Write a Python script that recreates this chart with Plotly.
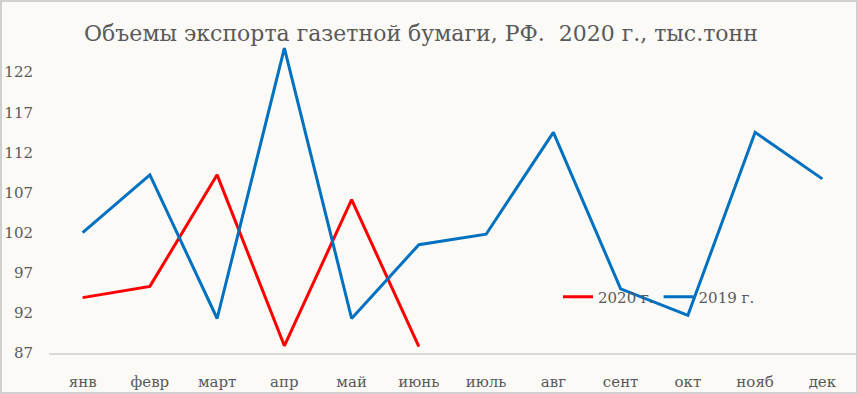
import plotly.graph_objects as go

months = ["янв", "февр", "март", "апр", "май", "июнь", "июль", "авг", "сент", "окт", "нояб", "дек"]
values_2020 = [93.9, 95.3, 109.2, 87.9, 106.1, 87.8]
values_2019 = [102.0, 109.2, 91.3, 125.0, 91.3, 100.5, 101.8, 114.5, 95.0, 91.7, 114.5, 108.7]
y_ticks = [87, 92, 97, 102, 107, 112, 117, 122]

W, H = 858, 394
ml, mr, mt, mb = 49, 2, 32, 41
pw = W - ml - mr
ph = H - mt - mb

font_fam = "DejaVu Serif, Liberation Serif, serif"
gray = "#595959"

fig = go.Figure()
fig.add_trace(go.Scatter(x=months[:len(values_2020)], y=values_2020, mode="lines", name="2020 г.",
                         line=dict(color="#FF0000", width=3)))
fig.add_trace(go.Scatter(x=months, y=values_2019, mode="lines", name="2019 г.",
                         line=dict(color="#0070C0", width=3)))

fig.update_layout(
    width=W, height=H,
    margin=dict(l=ml, r=mr, t=mt, b=mb),
    paper_bgcolor="#FBFAF6", plot_bgcolor="#FBFAF6",
    font=dict(family=font_fam, color=gray, size=15),
    title=dict(text="Объемы экспорта газетной бумаги, РФ.  2020 г., тыс.тонн",
               x=421 / W, xanchor="center", y=1 - 33 / H, yanchor="middle",
               font=dict(size=22, color=gray, family=font_fam)),
    showlegend=True,
    legend=dict(orientation="h", x=(558 - ml) / pw, xanchor="left",
                y=(H - mb - 297) / ph, yanchor="middle",
                bgcolor="rgba(0,0,0,0)", font=dict(size=15, color=gray),
                itemwidth=30, tracegroupgap=0),
    xaxis=dict(type="category", categoryorder="array", categoryarray=months,
               range=[-0.5, 11.5], showgrid=False, showline=True, linecolor="#D9D9D9",
               linewidth=1.5, ticks="", ticklabelstandoff=14, zeroline=False,
               tickfont=dict(size=15, color=gray)),
    yaxis=dict(range=[87, 127], tickvals=y_ticks, showgrid=False, showline=False,
               zeroline=False, ticks="", ticklabelstandoff=15,
               tickfont=dict(size=15, color=gray)),
)

# outer border
fig.add_shape(type="rect", xref="paper", yref="paper",
              x0=-(ml - 1) / pw, x1=1 + (mr - 1) / pw,
              y0=-(mb - 1) / ph, y1=1 + (mt - 1) / ph,
              line=dict(color="#D0D0D0", width=2), fillcolor="rgba(0,0,0,0)", layer="below")

fig.write_html("out.html", config={"displayModeBar": False})

# remove the default page margin so the figure sits at the window's top-left corner
with open("out.html", "r", encoding="utf-8") as f:
    html = f.read()
html = html.replace("<head>", "<head><style>html,body{margin:0;padding:0;overflow:hidden;}</style>", 1)
with open("out.html", "w", encoding="utf-8") as f:
    f.write(html)
